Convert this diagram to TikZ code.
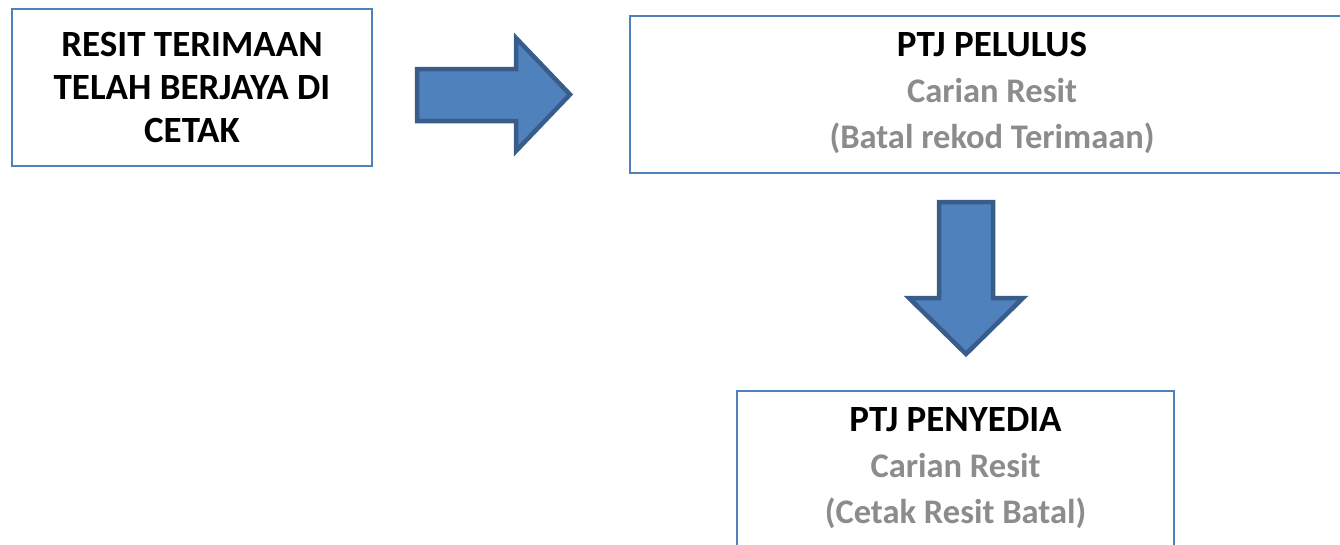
\documentclass[tikz,border=0pt]{standalone}
\usepackage{fontspec}
\setmainfont{Carlito}
\definecolor{boxline}{HTML}{4F81BD}
\definecolor{arrowfill}{HTML}{4F81BD}
\definecolor{arrowline}{HTML}{385D8A}
\definecolor{subtext}{HTML}{8C8C8C}
\newcommand{\subline}[1]{{\color{subtext}\fontsize{34.5}{46}\selectfont #1}}
\tikzset{
  box/.style={draw=boxline, line width=2pt, fill=white, rectangle, align=center, inner sep=0pt},
  bigtext/.style={font=\fontsize{37}{46}\selectfont\bfseries},
  bigtextA/.style={font=\fontsize{37}{43}\selectfont\bfseries},
  blockarrow/.style={fill=arrowfill, draw=arrowline, line width=4.5pt, line join=miter}
}
\begin{document}
\begin{tikzpicture}[x=1pt,y=-1pt]
\useasboundingbox (0,0) rectangle (1340,544);
\node[box, bigtextA, minimum width=360pt, minimum height=157pt] (resit) at (192,87.5)
  {RESIT TERIMAAN\\TELAH BERJAYA DI\\CETAK};
\node[box, minimum width=724pt, minimum height=157pt,
  label={[bigtext, align=center, yshift=2pt]center:PTJ PELULUS\\\subline{Carian Resit}\\\subline{(Batal rekod Terimaan)}}]
  (pelulus) at (992,94.5) {};
\node[box, minimum width=437pt, minimum height=164pt,
  label={[bigtext, align=center, yshift=5pt]center:PTJ PENYEDIA\\\subline{Carian Resit}\\\subline{(Cetak Resit Batal)}}]
  (penyedia) at (955.5,473) {};
% right block arrow
\draw[blockarrow] (417,69) -- (516,69) -- (516,38) -- (570,94.5) -- (516,151) -- (516,121) -- (417,121) -- cycle;
% down block arrow
\draw[blockarrow] (939,202) -- (993,202) -- (993,298) -- (1023,298) -- (966,354) -- (909,298) -- (939,298) -- cycle;
\end{tikzpicture}
\end{document}
